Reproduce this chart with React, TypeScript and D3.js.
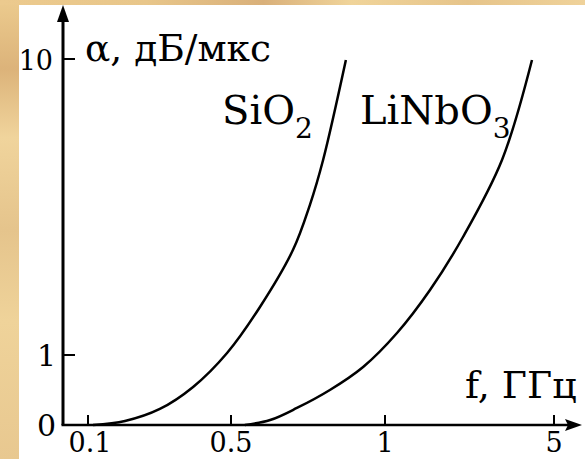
import React from "react";
import * as d3 from "d3";

const W = 585;
const H = 459;

const xTickValues = [0.1, 0.5, 1, 5];
const xTickLabels = ["0.1", "0.5", "1", "5"];
const yTickValues = [0, 1, 10];
const yTickLabels = ["0", "1", "10"];

const sio2F = [0.114, 0.2035, 0.301, 0.394, 0.489, 0.594, 0.701, 0.756, 0.799, 0.873];
const sio2A = [0, 0.057, 0.229, 0.543, 1.06, 2.46, 4.19, 5.56, 6.93, 9.97];

const linbo3F = [0.545, 0.627, 0.714, 0.821, 0.929, 1.284, 2.065, 2.846, 3.769, 4.479];
const linbo3A = [0, 0.071, 0.243, 0.5, 0.829, 1.669, 2.976, 4.588, 6.929, 9.97];

const FONT = "'DejaVu Serif', serif";

export default function App() {
  const x = d3.scaleLinear().domain([0, 0.1, 0.5, 1, 5]).range([63, 88, 231, 385, 554]);
  const y = d3.scaleLinear().domain([0, 1, 10]).range([425, 355, 59]);

  const line = d3
    .line<[number, number]>()
    .x((d) => x(d[0]))
    .y((d) => y(d[1]))
    .curve(d3.curveCatmullRom.alpha(0.5));

  const sio2 = sio2F.map((f, i) => [f, sio2A[i]] as [number, number]);
  const linbo3 = linbo3F.map((f, i) => [f, linbo3A[i]] as [number, number]);

  const x0 = x(0);
  const y0 = y(0);
  const ts = { fontFamily: FONT };

  return (
    <svg width={W} height={H} style={{ position: "absolute", left: 0, top: 0 }}>
      <defs>
        <linearGradient id="bgL" x1="0" y1="0" x2="0" y2="1">
          <stop offset="0" stopColor="#eccb8e" />
          <stop offset="0.15" stopColor="#dcb37a" />
          <stop offset="0.3" stopColor="#f0d49c" />
          <stop offset="0.5" stopColor="#e5c48c" />
          <stop offset="0.7" stopColor="#efd39a" />
          <stop offset="1" stopColor="#e8c890" />
        </linearGradient>
        <linearGradient id="bgT" x1="0" y1="0" x2="1" y2="0">
          <stop offset="0" stopColor="#ecca8e" />
          <stop offset="0.25" stopColor="#e8c68a" />
          <stop offset="0.45" stopColor="#d9b07a" />
          <stop offset="0.6" stopColor="#f0d49a" />
          <stop offset="0.8" stopColor="#e6c48a" />
          <stop offset="1" stopColor="#efd29a" />
        </linearGradient>
      </defs>
      <rect x={0} y={0} width={W} height={H} fill="#ffffff" />
      <rect x={0} y={0} width={19} height={H} fill="url(#bgL)" />
      <rect x={0} y={0} width={W} height={5} fill="url(#bgT)" />

      {/* y axis */}
      <line x1={x0} y1={y0} x2={x0} y2={18} stroke="#000" strokeWidth={3} />
      <path d={`M${x0},5 L${x0 - 6},22 L${x0 + 6},22 Z`} fill="#000" />
      {/* x axis */}
      <line x1={x0 - 1.5} y1={y0} x2={568} y2={y0} stroke="#000" strokeWidth={2.5} />
      <path d={`M582,${y0} L565,${y0 - 6} L568,${y0} L565,${y0 + 6} Z`} fill="#000" />

      {/* y ticks */}
      {yTickValues.map((v, i) => (
        <g key={"yt" + i}>
          {v !== 0 && (
            <line x1={x0} y1={y(v)} x2={x0 + 12} y2={y(v)} stroke="#000" strokeWidth={2} />
          )}
          <text
            x={v === 10 ? 53 : 56}
            y={y(v) + 11}
            fontSize={v === 10 ? 27 : 30}
            textAnchor="end"
            fill="#000"
            style={ts}
          >
            {yTickLabels[i]}
          </text>
        </g>
      ))}

      {/* x ticks */}
      {xTickValues.map((v, i) => (
        <g key={"xt" + i}>
          <line x1={x(v)} y1={y0} x2={x(v)} y2={y0 - 10} stroke="#000" strokeWidth={2} />
          <text
            x={x(v) + (v === 0.1 ? 2 : 0)}
            y={452}
            fontSize={27}
            textAnchor="middle"
            fill="#000"
            style={ts}
          >
            {xTickLabels[i]}
          </text>
        </g>
      ))}

      {/* curves */}
      <path d={line(sio2) || ""} fill="none" stroke="#000" strokeWidth={2.5} />
      <path d={line(linbo3) || ""} fill="none" stroke="#000" strokeWidth={2.5} />

      {/* labels */}
      <text x={85} y={61} fontSize={37.5} fill="#000" style={ts}>
        α, дБ/мкс
      </text>
      <text x={222} y={124} fontSize={40} fill="#000" style={ts}>
        SiO<tspan fontSize={28} dy={14}>2</tspan>
      </text>
      <text x={360} y={124} fontSize={40} fill="#000" style={ts}>
        LiNbO<tspan fontSize={28} dy={14}>3</tspan>
      </text>
      <text x={465} y={398} fontSize={38} fill="#000" style={ts}>
        f, ГГц
      </text>
    </svg>
  );
}
